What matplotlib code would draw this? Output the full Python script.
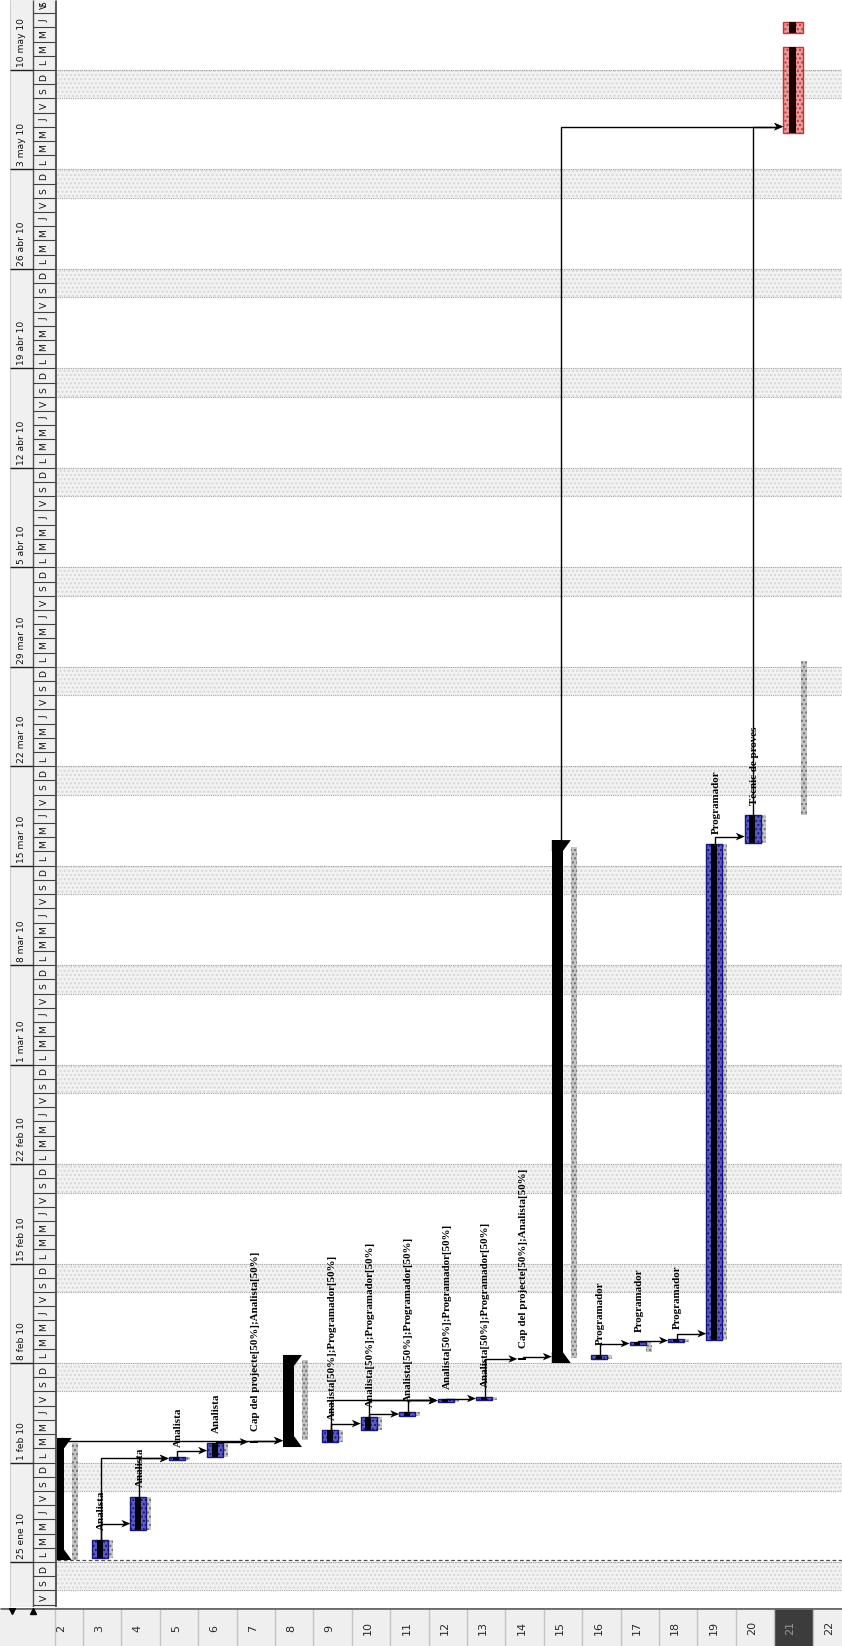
import matplotlib
matplotlib.use("Agg")
import matplotlib.pyplot as plt
from matplotlib.patches import Rectangle, Polygon
from matplotlib import font_manager
import numpy as np

# ---------------- data (days counted from Monday 25 ene 2010) ----------------
week_labels = ["25 ene 10", "1 feb 10", "8 feb 10", "15 feb 10", "22 feb 10",
               "1 mar 10", "8 mar 10", "15 mar 10", "22 mar 10", "29 mar 10",
               "5 abr 10", "12 abr 10", "19 abr 10", "26 abr 10", "3 may 10", "10 may 10"]
week_start = [0, 7, 14, 21, 28, 35, 42, 49, 56, 63, 70, 77, 84, 91, 98, 105]
day_letters = ["L", "M", "M", "J", "V", "S", "D"]
row_numbers = [2, 3, 4, 5, 6, 7, 8, 9, 10, 11, 12, 13, 14, 15, 16, 17, 18, 19, 20, 21, 22]
selected_row = 21
project_start = 0.14

summary_rows = [2, 8, 15]
summary_start = [0.14, 8.09, 14.0]
summary_end = [8.73, 14.57, 50.8]

task_rows = [3, 4, 5, 6, 9, 10, 11, 12, 13, 16, 17, 18, 19, 20]
task_start = [0.28, 2.25, 7.18, 7.39, 8.44, 9.29, 10.27, 11.26, 11.40, 14.29, 15.27, 15.48, 15.62, 50.60]
task_end = [1.55, 4.57, 7.39, 8.37, 9.29, 10.20, 10.56, 11.40, 11.54, 14.57, 15.41, 15.62, 50.53, 52.57]
task_labels = ["Analista", "Analista", "Analista", "Analista",
               "Analista[50%];Programador[50%]", "Analista[50%];Programador[50%]",
               "Analista[50%];Programador[50%]", "Analista[50%];Programador[50%]",
               "Analista[50%];Programador[50%]",
               "Programador", "Programador", "Programador", "Programador",
               "Tècnic de proves"]

mark_rows = [7, 14]
mark_day = [8.37, 14.20]
mark_labels = ["Cap del projecte[50%];Analista[50%]", "Cap del projecte[50%];Analista[50%]"]

critical_row = 21
critical_start = [100.56, 107.6]
critical_end = [106.6, 108.4]

baseline_rows = [2, 8, 15, 17, 21]
baseline_start = [0.14, 8.59, 14.36, 14.80, 52.60]
baseline_end = [8.37, 14.20, 50.30, 15.30, 63.40]

link_from = [2, 3, 3, 4, 5, 6, 7, 9, 9, 10, 10, 11, 12, 13, 14, 16, 17, 18, 19, 15, 20]
link_to = [8, 4, 5, 5, 6, 7, 8, 10, 12, 11, 12, 12, 13, 14, 15, 17, 18, 19, 20, 21, 21]

# ---------------- layout ----------------
W, H = 842, 1646
Y0, S = 1562.0, 14.21          # pixel of day 0, pixels per day
PXR, C0 = 38.4, 44.6           # pixels per row, left pixel of row 2 column
CHART_L, CHART_B = 57, 1607

names = {f.name for f in font_manager.fontManager.ttflist}
if "Liberation Sans Narrow" in names:
    NARROW, NSIZE = "Liberation Sans Narrow", 7.8
else:
    NARROW, NSIZE = "DejaVu Sans", 6.6
SERIF = "Liberation Serif"

ylo, yhi = (Y0 - CHART_B) / S, Y0 / S


def xr(px):
    return 1.5 + (px - C0) / PXR


def X(r, off):
    return r - 0.5 + off / PXR


fig = plt.figure(figsize=(W / 100, H / 100), dpi=100)
fig.patch.set_facecolor("white")

ax = fig.add_axes([CHART_L / W, (H - CHART_B) / H, (W - CHART_L) / W, CHART_B / H])
xlo, xhi = xr(CHART_L), xr(W)
ax.set_xlim(xlo, xhi)
ax.set_ylim(ylo, yhi)
ax.axis("off")

# weekend bands
for d in range(int(np.floor(ylo)) - 2, int(np.ceil(yhi)) + 1):
    if d % 7 == 5:
        ax.add_patch(Rectangle((xlo, d), xhi - xlo, 2, facecolor="#f2f2f2",
                               edgecolor="#d6d6d6", hatch="....", lw=0, zorder=0))
        ax.hlines([d, d + 2], xlo, xhi, colors="#a0a0a0", linestyles=(0, (1, 1)),
                  lw=0.8, zorder=0.5)

ax.hlines(project_start, xlo, xhi, colors="#505050", linestyles=(0, (3, 2)), lw=0.9, zorder=0.6)

start_of, end_of, tip_off = {}, {}, {}

# baselines (gray)
for r, s, e in zip(baseline_rows, baseline_start, baseline_end):
    o = 25 if r in task_rows else 27
    ax.add_patch(Rectangle((X(r, o), s), X(r, o + 6) - X(r, o), e - s, facecolor="#c4c4c4",
                           edgecolor="#707070", hatch="....", lw=0, zorder=2))

# summary bars
t = 11 / S
for r, s, e in zip(summary_rows, summary_start, summary_end):
    ax.add_patch(Rectangle((X(r, 8), s), X(r, 19) - X(r, 8), e - s, facecolor="black", lw=0, zorder=3))
    ax.add_patch(Polygon([(X(r, 8), s), (X(r, 27), s), (X(r, 19), s + t), (X(r, 8), s + t)],
                         closed=True, facecolor="black", lw=0, zorder=3))
    ax.add_patch(Polygon([(X(r, 8), e), (X(r, 27), e), (X(r, 19), e - t), (X(r, 8), e - t)],
                         closed=True, facecolor="black", lw=0, zorder=3))
    start_of[r], end_of[r], tip_off[r] = s, e, 8

# task bars
for r, s, e, lab in zip(task_rows, task_start, task_end, task_labels):
    h = max(e - s, 3 / S)
    ax.add_patch(Rectangle((X(r, 24), s), X(r, 30) - X(r, 24), h, facecolor="#c8c8c8",
                           edgecolor="#707070", hatch="....", lw=0, zorder=2))
    ax.add_patch(Rectangle((X(r, 9), s), X(r, 25) - X(r, 9), h, facecolor="#5c5cc0",
                           edgecolor="#16167e", hatch="....", lw=1.0, zorder=3))
    ax.add_patch(Rectangle((X(r, 13.5), s), X(r, 19.5) - X(r, 13.5), h, facecolor="#03030c",
                           lw=0, zorder=4))
    ax.text(X(r, 18.5), s + h + 10 / S, lab, rotation=90, ha="center", va="bottom",
            fontsize=7.9, family=SERIF, weight="bold", zorder=6)
    start_of[r], end_of[r], tip_off[r] = s, s + h, 9

# tiny tasks
for r, d, lab in zip(mark_rows, mark_day, mark_labels):
    h = 2.5 / S
    ax.add_patch(Rectangle((X(r, 13), d), X(r, 21) - X(r, 13), h, facecolor="black", lw=0, zorder=4))
    ax.text(X(r, 18.5), d + h + 10 / S, lab, rotation=90, ha="center", va="bottom",
            fontsize=7.9, family=SERIF, weight="bold", zorder=6)
    start_of[r], end_of[r], tip_off[r] = d, d + h, 12

# critical (red) task
for s, e in zip(critical_start, critical_end):
    r = critical_row
    ax.add_patch(Rectangle((X(r, 9), s), X(r, 29) - X(r, 9), e - s, facecolor="#e3a0a0",
                           edgecolor="#cc3030", hatch="....", lw=1.0, zorder=3))
    ax.add_patch(Rectangle((X(r, 15), s), X(r, 22) - X(r, 15), e - s, facecolor="#1a0000",
                           lw=0, zorder=4))
start_of[critical_row], end_of[critical_row] = critical_start[0], critical_end[-1]
tip_off[critical_row] = 9

# links
for a, b in zip(link_from, link_to):
    ya = end_of[a]
    yb = start_of[b] + min(0.45, (end_of[b] - start_of[b]) / 2)
    xa = X(a, 17.5)
    xb = X(b, tip_off[b])
    ax.plot([xa, xa, xb - 6 / PXR], [ya, yb, yb], color="black", lw=1.0,
            solid_joinstyle="miter", zorder=5)
    ax.add_patch(Polygon([(xb, yb), (xb - 9 / PXR, yb + 3.8 / S), (xb - 6.5 / PXR, yb),
                          (xb - 9 / PXR, yb - 3.8 / S)], closed=True,
                         facecolor="black", lw=0, zorder=5))

# ---------------- time header (left) ----------------
hax = fig.add_axes([0, (H - CHART_B) / H, CHART_L / W, CHART_B / H])
hax.set_xlim(0, CHART_L)
hax.set_ylim(ylo, yhi)
hax.axis("off")
hax.add_patch(Rectangle((10, ylo), 45, yhi - ylo, facecolor="#f0f0f0", edgecolor="none"))
hax.vlines(10, ylo, yhi, color="#cfcfcf", lw=0.8)
hax.vlines(33, ylo, yhi, color="#505050", lw=1.0)
hax.vlines(55.5, ylo, yhi, color="#5a5a5a", lw=2.2)
for wd, lab in zip(week_start, week_labels):
    hax.hlines(wd, 10, 33, color="#202020", lw=1.0)
    hax.text(21.5, wd + 3 / S, lab, rotation=90, ha="center", va="bottom",
             fontsize=NSIZE, family=NARROW, color="#111111")
for d in range(int(np.floor(ylo)), int(np.ceil(yhi)) + 1):
    hax.hlines(d, 33, 55, color="#404040", lw=0.8)
    yc = min(d + 0.5, yhi - 0.32)
    if yc > ylo + 0.3:
        hax.text(44, yc, day_letters[d % 7], rotation=90, ha="center", va="center",
                 fontsize=NSIZE, family=NARROW, color="#111111")

# ---------------- row strip (bottom) ----------------
SH = H - CHART_B - 1
sax = fig.add_axes([0, 0, 1, SH / H])
sax.set_xlim(xr(0), xr(W))
sax.set_ylim(0, SH)
sax.axis("off")
sax.add_patch(Rectangle((xr(0), 0), xr(W) - xr(0), SH, facecolor="#efefef", edgecolor="none"))
sax.add_patch(Rectangle((selected_row - 0.5, 0), 1, SH, facecolor="#3c3c3c", edgecolor="none"))
for r in row_numbers:
    sax.vlines(r + 0.5, 0, SH, color="#c4c4c4", lw=1.0)
    sax.text(r - 3 / PXR, SH / 2 - 1, str(r), rotation=90, ha="center", va="center",
             fontsize=8, color="#9a9a9a" if r == selected_row else "#2a2a2a")
sax.add_patch(Rectangle((xr(0), 0), xr(55) - xr(0), SH, facecolor="#efefef", edgecolor="none"))
sax.vlines(xr(55), 0, SH, color="#c4c4c4", lw=1.0)
sax.hlines(SH, xr(0), xr(W), color="#6a6a6a", lw=2.0)
sax.plot([xr(12)], [SH - 3], marker="v", ms=4, color="black")
sax.plot([xr(33)], [SH - 3], marker="^", ms=4, color="black")

fig.savefig("out.png", dpi=100, facecolor="white")
